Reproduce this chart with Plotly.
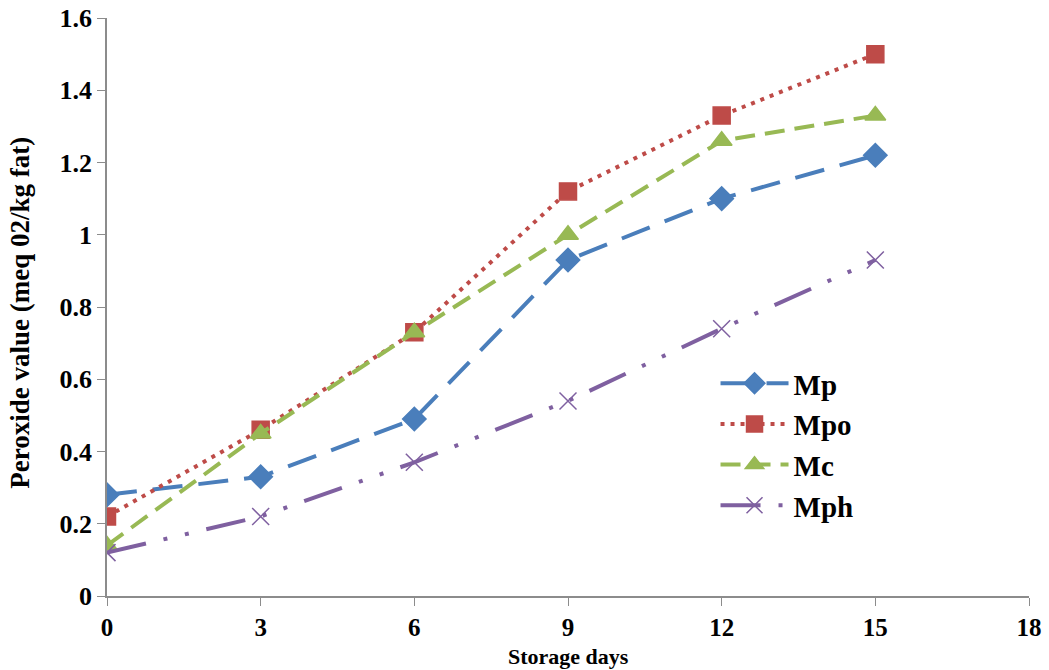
import plotly.graph_objects as go

days = [0, 3, 6, 9, 12, 15]
mp = [0.28, 0.33, 0.49, 0.93, 1.10, 1.22]
mpo = [0.22, 0.46, 0.73, 1.12, 1.33, 1.50]
mc = [0.14, 0.45, 0.73, 1.00, 1.26, 1.33]
mph = [0.12, 0.22, 0.37, 0.54, 0.74, 0.93]

series = [
    ("Mp", mp, "#4a7ebb", "30px,16px", "diamond", 18),
    ("Mpo", mpo, "#be4b48", "4px,6px", "square", 17),
    ("Mc", mc, "#98b954", "20px,10px", "triangle-up", 18),
    ("Mph", mph, "#7f60a0", "40px,18px,4px,18px,4px,18px", "x-thin-open", 17),
]

fig = go.Figure()
for name, vals, color, dash, sym, size in series:
    fig.add_trace(go.Scatter(
        x=days, y=vals, name=name, mode="lines+markers",
        line=dict(color=color, width=4, dash=dash),
        marker=dict(symbol=sym, size=size, color=color,
                    line=dict(color=color, width=1.5)),
    ))

font_fam = "Liberation Serif, Times New Roman, serif"
fig.update_layout(
    width=1049, height=670,
    margin=dict(l=107, r=20, t=18, b=74),
    plot_bgcolor="white", paper_bgcolor="white",
    font=dict(family=font_fam, color="black"),
    showlegend=True,
    legend=dict(x=0.66, y=0.412, xanchor="left", yanchor="top",
                font=dict(size=29, family=font_fam, weight="bold"),
                itemwidth=68, tracegroupgap=2, bgcolor="rgba(0,0,0,0)"),
    xaxis=dict(range=[0, 18], tickvals=[0, 3, 6, 9, 12, 15, 18],
               automargin=False,
               showgrid=False, zeroline=False, showline=True,
               linecolor="#8c8c8c", linewidth=1.5,
               ticks="outside", ticklen=8, tickcolor="#8c8c8c",
               tickfont=dict(size=25, family=font_fam, weight="bold")),
    yaxis=dict(range=[0, 1.6], tickvals=[0, 0.2, 0.4, 0.6, 0.8, 1, 1.2, 1.4, 1.6],
               ticktext=["0", "0.2", "0.4", "0.6", "0.8", "1", "1.2", "1.4", "1.6"],
               automargin=False,
               showgrid=False, zeroline=False, showline=True,
               linecolor="#8c8c8c", linewidth=1.5,
               ticks="outside", ticklen=8, tickcolor="#8c8c8c",
               tickfont=dict(size=26, family=font_fam, weight="bold")),
    annotations=[
        dict(text="Storage days", xref="paper", yref="paper", x=0.5, y=-0.104,
             xanchor="center", yanchor="middle", showarrow=False,
             font=dict(size=22, family=font_fam, weight="bold", color="black")),
        dict(text="Peroxide value (meq 02/kg fat)", xref="paper", yref="paper",
             x=-0.0944, y=0.49, xanchor="center", yanchor="middle", textangle=-90,
             showarrow=False,
             font=dict(size=27, family=font_fam, weight="bold", color="black")),
    ],
)

fig.write_html("out.html")
